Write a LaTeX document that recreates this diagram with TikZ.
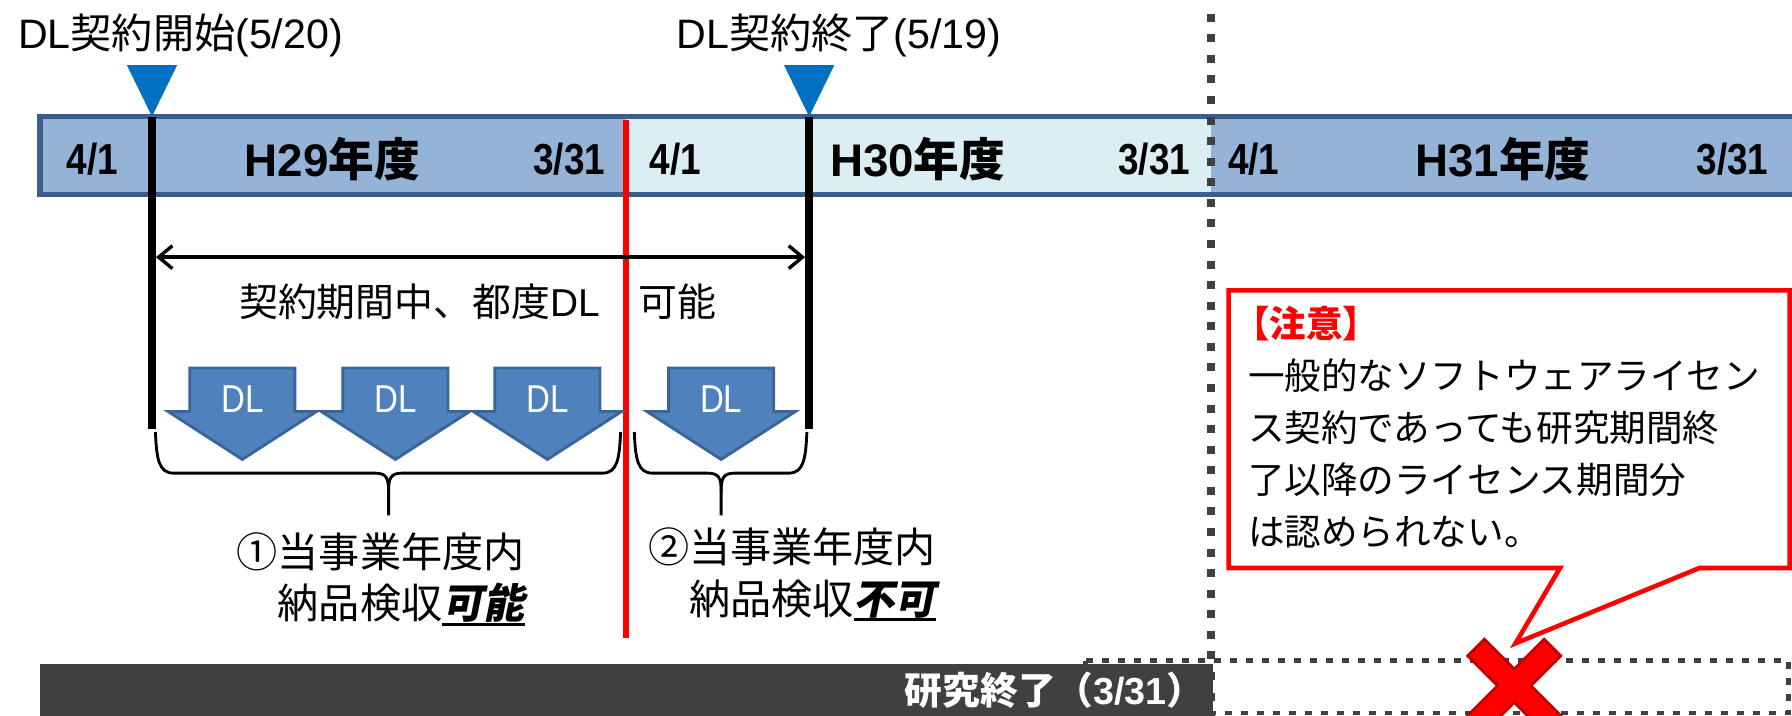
\documentclass[tikz,border=0pt]{standalone}
\usepackage{fontspec}
\setmainfont{Liberation Sans}
\newfontfamily\latc{Liberation Sans}[FakeStretch=0.85]
\newfontfamily\jp{Noto Sans CJK JP}
\newfontfamily\jpsl{Noto Sans CJK JP}[FakeSlant=0.2]
\usetikzlibrary{arrows.meta}
\definecolor{barfill}{HTML}{95B3D7}
\definecolor{barlight}{HTML}{DBEEF4}
\definecolor{barline}{HTML}{3A5F8C}
\definecolor{tri}{HTML}{0070C0}
\definecolor{dlfill}{HTML}{4F81BD}
\definecolor{dlline}{HTML}{3A6598}
\definecolor{darkbar}{HTML}{404040}
\definecolor{xred}{HTML}{FF0000}
\definecolor{xdark}{HTML}{C00000}
\newcommand\J[1]{{\jp #1}}
\newsavebox\ulbox
\newcommand\myul[1]{\sbox\ulbox{#1}\rlap{\rule[-6pt]{\wd\ulbox}{2.5pt}}\usebox\ulbox}
\newcommand\bracedraw[3]{%
  \draw[bracestyle] (#1,378) .. controls (#1+1,402) and (#1+3,414) .. (#1+16,414)
    -- (#2-12,414) .. controls (#2-2,414) and (#2,418) .. (#2,430) -- (#2,451);
  \draw[bracestyle] (#3,378) .. controls (#3-1,402) and (#3-3,414) .. (#3-16,414)
    -- (#2+12,414) .. controls (#2+2,414) and (#2,418) .. (#2,430);
}
\tikzset{
  toplabel/.style={font=\fontsize{36}{36}\selectfont},
  datelabel/.style={font=\latc\fontsize{38}{38}\selectfont\bfseries},
  yearlabel/.style={font=\fontsize{40}{40}\selectfont\bfseries},
  midlabel/.style={font=\fontsize{34}{34}\selectfont},
  desclabel/.style={font=\jp\fontsize{36}{45}\selectfont, align=left, anchor=north west},
  notelabel/.style={font=\jp\fontsize{32}{45.5}\selectfont, align=left, anchor=north west},
  endlabel/.style={font=\fontsize{33}{33}\selectfont\bfseries, text=white, anchor=east},
  dltext/.style={font=\latc\fontsize{34}{34}\selectfont, text=white},
  bracestyle/.style={line width=2.5pt, black},
  vline/.style={line width=7pt, black},
  dotline/.style={darkbar, line width=7pt, dash pattern=on 7pt off 11pt},
  dotbox/.style={darkbar, line width=4pt, dash pattern=on 6pt off 8pt},
  dlarrow/.pic={
    \draw[dlline, line width=2.5pt, fill=dlfill, line join=miter]
      (-46,0) -- (46,0) -- (46,38) -- (65,38) -- (0,80) -- (-65,38) -- (-46,38) -- cycle;
    \node[dltext] (-t) at (0,27) {DL};
  }
}
\begin{document}
\begin{tikzpicture}[x=1pt,y=-1pt, every node/.style={inner sep=0pt, outer sep=0pt}]
\useasboundingbox (0,0) rectangle (1568,626);
\clip (0,0) rectangle (1568,626);
% timeline bar
\fill[barfill] (35,102) rectangle (1060,170);
\fill[barlight] (548,102) rectangle (1060,170);
\fill[barfill] (1060,102) rectangle (1600,170);
\draw[barline, line width=4.5pt] (35,102) rectangle (1600,170);
% red fiscal boundary
\draw[red, line width=5pt] (548,105) -- (548,558);
% contract start / end lines
\coordinate (cs) at (133,102);
\coordinate (ce) at (708,102);
\draw[vline] (cs) -- (133,375);
\draw[vline] (ce) -- (708,375);
\fill[tri] (111,57) -- (155,57) -- (cs) -- cycle;
\fill[tri] (686,57) -- (730,57) -- (ce) -- cycle;
% labels top
\node[toplabel] (start) at (158,31) {DL\J{契約開始}(5/20)};
\node[toplabel] (finish) at (734,31) {DL\J{契約終了}(5/19)};
% bar labels
\node[datelabel] (a1) at (81,139) {4/1};
\node[yearlabel] (y29) at (291,139) {H29\J{年度}};
\node[datelabel] (b1) at (498,139) {3/31};
\node[datelabel] (a2) at (591,139) {4/1};
\node[yearlabel] (y30) at (803,139) {H30\J{年度}};
\node[datelabel] (b2) at (1010,139) {3/31};
\node[datelabel] (a3) at (1097,139) {4/1};
\node[yearlabel] (y31) at (1315,139) {H31\J{年度}};
\node[datelabel] (b3) at (1516,139) {3/31};
% double arrow
\coordinate (ps) at (136.5,225);
\coordinate (pe) at (704.5,225);
\draw[line width=3pt, {Straight Barb[length=12pt,width=20pt]}-{Straight Barb[length=12pt,width=20pt]}] (ps) -- (pe);
\node[midlabel] (period) at (418,264) {\J{契約期間中、都度}DL\J{　可能}};
% DL arrows
\pic (d1) at (212,322) {dlarrow};
\pic (d2) at (346,322) {dlarrow};
\pic (d3) at (479,322) {dlarrow};
\pic (d4) at (631,322) {dlarrow};
% braces
\bracedraw{136}{340}{543}
\bracedraw{555}{631}{706}
\node[desclabel] (c1) at (207,466) {①当事業年度内\\　納品検収{\jpsl\bfseries\myul{可能}}};
\node[desclabel] (c2) at (567,462) {②当事業年度内\\　納品検収{\jpsl\bfseries\myul{不可}}};
% bottom
\draw[dotbox] (950,578) rectangle (1565,624);
\fill[darkbar] (35,581) rectangle (1061,640);
\node[endlabel] (endres) at (1054,604) {\J{研究終了（}3/31\J{）}};
\draw[dotline] (1060,12) -- (1060,640);
% callout
\draw[red, line width=4pt, fill=white, line join=miter]
  (1075,254) -- (1566,254) -- (1566,497) -- (1487,497) -- (1326,563) -- (1365,497) -- (1075,497) -- cycle;
\node[notelabel] (note) at (1092,268) {\hspace*{-13pt}{\color{red}\bfseries【注意】}\\一般的なソフトウェアライセン\\ス契約であっても研究期間終\\了以降のライセンス期間分\\は認められない。};
% cross
\begin{scope}[shift={(1325,600)}, rotate=45]
  \draw[xdark, line width=5pt] (-46,-9) rectangle (46,9);
  \draw[xdark, line width=5pt] (-9,-46) rectangle (9,46);
  \fill[xred] (-46,-9) rectangle (46,9);
  \fill[xred] (-9,-46) rectangle (9,46);
\end{scope}
\end{tikzpicture}
\end{document}
